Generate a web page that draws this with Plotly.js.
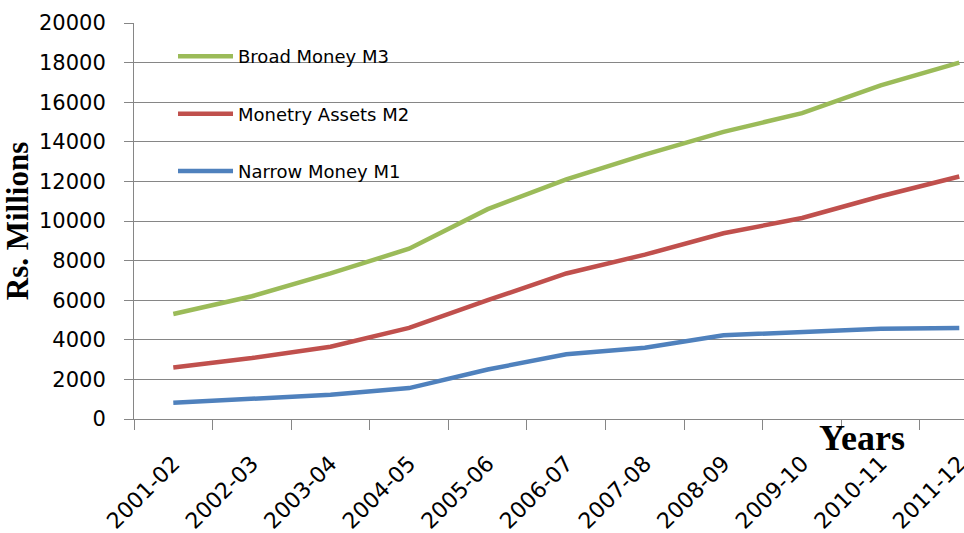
<!DOCTYPE html>
<html>
<head>
<meta charset="utf-8">
<script src="https://cdn.plot.ly/plotly-3.0.1.min.js"></script>
<style>
html,body{margin:0;padding:0;background:#fff;overflow:hidden;}
#chart{width:964px;height:533px;}
</style>
</head>
<body>
<div id="chart"></div>
<script>
const years = ["2001-02","2002-03","2003-04","2004-05","2005-06","2006-07","2007-08","2008-09","2009-10","2010-11","2011-12"];
const broadM3 = [5300, 6200, 7350, 8600, 10600, 12100, 13350, 14500, 15450, 16850, 18000];
const monetaryM2 = [2600, 3080, 3650, 4600, 6000, 7350, 8300, 9380, 10150, 11250, 12250];
const narrowM1 = [820, 1020, 1220, 1560, 2500, 3270, 3600, 4230, 4380, 4560, 4600];
const yTicks = [0,2000,4000,6000,8000,10000,12000,14000,16000,18000,20000];

const names = ["Broad Money M3", "Monetry Assets M2", "Narrow Money M1"];
const colors = ["#9BBB59", "#C0504D", "#4F81BD"];
const series = [broadM3, monetaryM2, narrowM1];

const traces = series.map((vals, i) => ({
  type: "scatter",
  mode: "lines",
  x: years,
  y: vals,
  name: names[i],
  legendgroup: "g" + i,
  line: {color: colors[i], width: 4.5},
  hoverinfo: "skip"
}));

const gridColor = "#868686";

const layout = {
  width: 964,
  height: 533,
  margin: {l: 134, r: 0, t: 23, b: 114, pad: 0},
  paper_bgcolor: "#ffffff",
  plot_bgcolor: "#ffffff",
  showlegend: true,
  legend: {
    x: 0.047, y: 0.962, xanchor: "left", yanchor: "top",
    bgcolor: "rgba(0,0,0,0)",
    font: {family: "DejaVu Sans", size: 18, color: "#000"},
    tracegroupgap: 31,
    traceorder: "grouped",
    itemwidth: 55
  },
  xaxis: {
    type: "category",
    range: [-0.5, 10.06],
    tickson: "boundaries",
    ticks: "outside",
    ticklen: 10,
    tickcolor: gridColor,
    tickwidth: 1,
    tickangle: -45,
    ticklabelstandoff: 22,
    tickfont: {family: "DejaVu Sans", size: 22, color: "#000"},
    showgrid: false,
    showline: true,
    linecolor: gridColor,
    linewidth: 1,
    zeroline: false,
    automargin: false,
    fixedrange: true
  },
  yaxis: {
    range: [0, 20000],
    tickmode: "array",
    tickvals: yTicks,
    ticktext: yTicks.map(String),
    ticks: "outside",
    ticklen: 9,
    tickcolor: gridColor,
    ticklabelstandoff: 14,
    tickfont: {family: "DejaVu Sans", size: 21, color: "#000"},
    showgrid: true,
    gridcolor: gridColor,
    gridwidth: 1,
    showline: true,
    linecolor: gridColor,
    linewidth: 1,
    zeroline: false,
    automargin: false,
    fixedrange: true,
    title: {
      text: "Rs. Millions",
      font: {family: "Liberation Serif", size: 31, color: "#000", weight: "bold"},
      standoff: 11
    }
  },
  annotations: [{
    text: "Years",
    xref: "paper", yref: "paper",
    x: (862 - 134) / 830, y: -0.047,
    xanchor: "center", yanchor: "middle",
    showarrow: false,
    font: {family: "Liberation Serif", size: 36, color: "#000", weight: "bold"}
  }]
};

Plotly.newPlot("chart", traces, layout, {staticPlot: true, displayModeBar: false});
</script>
</body>
</html>
